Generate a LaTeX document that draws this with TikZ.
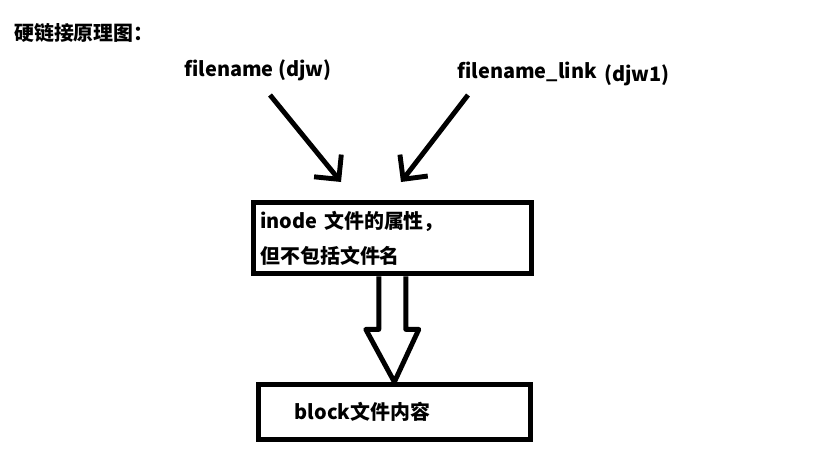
\documentclass[tikz,border=0pt]{standalone}
\usepackage{fontspec}
\setmainfont{Noto Sans CJK SC}
\usetikzlibrary{arrows.meta,calc}

\tikzset{
  lbl/.style={font=\fontsize{17pt}{30pt}\selectfont\bfseries, inner sep=0pt, anchor=west},
  box/.style={draw, line width=4.2pt, anchor=north west, align=left,
    font=\fontsize{17pt}{30pt}\selectfont\bfseries},
  ptr/.style={line width=4.2pt, -{Straight Barb[length=15pt, width=30pt]}},
  hollow/.style={line width=4.2pt, line join=round}
}

\begin{document}
\begin{tikzpicture}[x=0.03cm, y=-0.03cm]
      \useasboundingbox (0,0) rectangle (825,453);
      % title
      \node[lbl] (title) at (14,33) {硬链接原理图：};
      % file names
      \node[lbl] (fn) at (184,70) {filename (djw)};
      \node[lbl] (fnl) at (457,72) {filename\_link};
      \node[lbl] (fnlid) at (604,75) {(djw1)};
      % inode and data block
      \node[box, inner xsep=6pt, text width=225pt, minimum height=61pt] (inode) at (251,200)
        {inode 文件的属性，\\但不包括文件名};
      \node[box, inner xsep=31pt, text width=170pt, minimum height=47pt] (block) at (256,382)
        {block文件内容};
      % two names point to one inode
      \coordinate (a1) at (270,95);
      \coordinate (a1tip) at (341,182);
      \coordinate (a2) at (468,95);
      \coordinate (a2tip) at (401,182);
      \draw[ptr] (a1) -- (a1tip);
      \draw[ptr] (a2) -- (a2tip);
      % hollow arrow inode -> block
      \draw[hollow] ($(inode.south)+(-13.5,0)$) -- ++(0,53) -- ++(-13,0) -- (block.north)
        -- ($(inode.south)+(26.5,53)$) -- ++(-13,0) -- ($(inode.south)+(13.5,0)$);
    \end{tikzpicture}
\end{document}
